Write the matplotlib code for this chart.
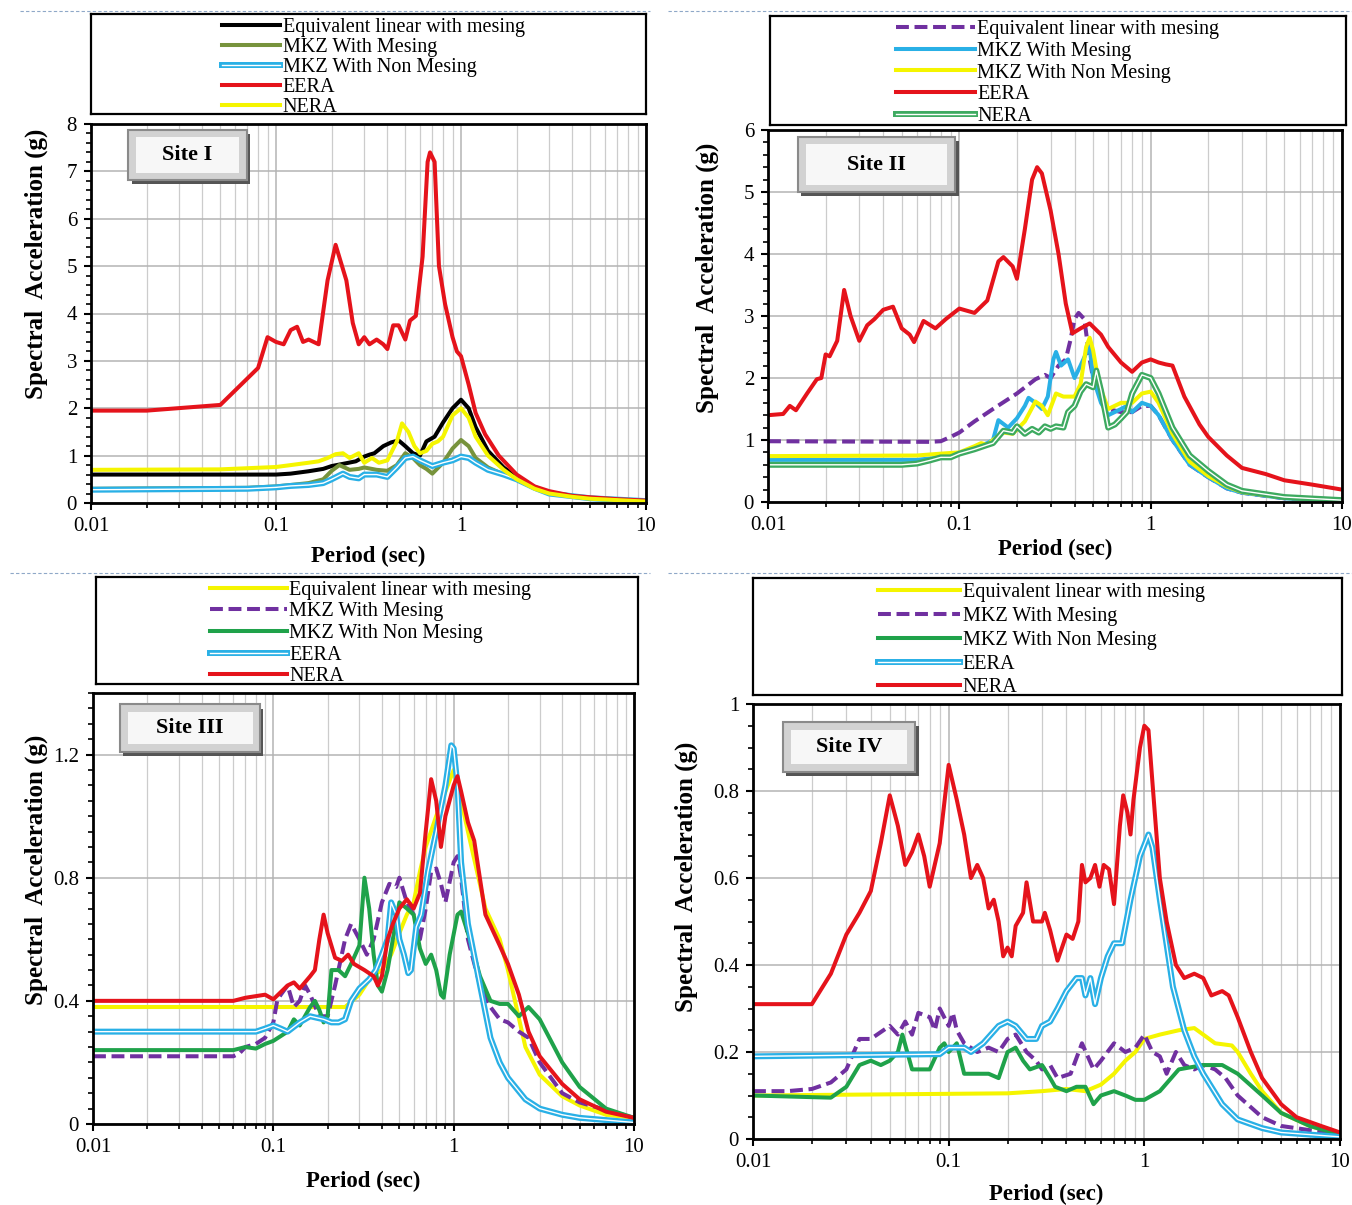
import matplotlib.pyplot as plt
import matplotlib.patheffects as pe
from matplotlib.lines import Line2D
from matplotlib.patches import Rectangle
from matplotlib.ticker import MultipleLocator, FixedLocator, LogLocator, FuncFormatter, NullFormatter

plt.rcParams['font.family'] = ['Liberation Serif', 'DejaVu Serif']

# ---------------- data (period in sec, spectral acceleration in g) ----------------
labels = ["Equivalent linear with mesing", "MKZ With Mesing", "MKZ With Non Mesing", "EERA", "NERA"]

# Site I
s1_eq_T = [0.01, 0.1, 0.12, 0.15, 0.18, 0.2, 0.24, 0.27, 0.3, 0.32, 0.34, 0.38, 0.42, 0.46, 0.5, 0.55, 0.6, 0.65,
           0.72, 0.8, 0.9, 1.0, 1.1, 1.2, 1.4, 1.7, 2.0, 2.5, 3.0, 4.0, 5.0, 10.0]
s1_eq_sa = [0.6, 0.6, 0.62, 0.67, 0.72, 0.78, 0.84, 0.88, 0.98, 1.02, 1.05, 1.2, 1.28, 1.32, 1.2, 1.05, 1.0, 1.3,
            1.4, 1.7, 2.0, 2.18, 2.0, 1.6, 1.1, 0.75, 0.55, 0.32, 0.22, 0.14, 0.1, 0.04]
s1_mkz_T = [0.01, 0.07, 0.1, 0.12, 0.15, 0.18, 0.2, 0.22, 0.25, 0.28, 0.3, 0.35, 0.4, 0.45, 0.5, 0.55, 0.6, 0.65,
            0.7, 0.8, 0.9, 1.0, 1.1, 1.2, 1.4, 1.7, 2.0, 2.5, 3.0, 5.0, 10.0]
s1_mkz_sa = [0.3, 0.32, 0.35, 0.38, 0.42, 0.5, 0.68, 0.8, 0.7, 0.72, 0.75, 0.7, 0.68, 0.8, 1.05, 0.95, 0.8, 0.72,
             0.62, 0.85, 1.15, 1.33, 1.2, 0.95, 0.75, 0.6, 0.5, 0.32, 0.22, 0.1, 0.04]
s1_nm_T = [0.01, 0.07, 0.1, 0.12, 0.15, 0.18, 0.2, 0.23, 0.25, 0.28, 0.3, 0.35, 0.4, 0.45, 0.5, 0.55, 0.6, 0.7,
           0.8, 0.9, 1.0, 1.1, 1.2, 1.4, 1.7, 2.0, 2.5, 3.0, 5.0, 10.0]
s1_nm_sa = [0.28, 0.3, 0.33, 0.36, 0.38, 0.42, 0.5, 0.62, 0.55, 0.52, 0.6, 0.6, 0.55, 0.75, 0.95, 0.98, 0.9, 0.78,
            0.85, 0.9, 0.98, 0.95, 0.85, 0.7, 0.6, 0.5, 0.32, 0.2, 0.1, 0.04]
s1_eera_T = [0.01, 0.02, 0.05, 0.08, 0.09, 0.1, 0.11, 0.12, 0.13, 0.14, 0.15, 0.17, 0.19, 0.21, 0.24, 0.26, 0.28,
             0.3, 0.32, 0.35, 0.38, 0.4, 0.43, 0.46, 0.5, 0.53, 0.57, 0.62, 0.66, 0.68, 0.72, 0.76, 0.82, 0.9, 0.95,
             1.0, 1.1, 1.2, 1.35, 1.6, 2.0, 2.5, 3.0, 4.0, 5.0, 7.0, 10.0]
s1_eera_sa = [1.95, 1.95, 2.07, 2.85, 3.5, 3.4, 3.35, 3.65, 3.72, 3.4, 3.45, 3.35, 4.7, 5.45, 4.7, 3.8, 3.35,
              3.5, 3.35, 3.45, 3.35, 3.25, 3.75, 3.75, 3.45, 3.85, 3.95, 5.2, 7.2, 7.4, 7.2, 5.0, 4.2, 3.5, 3.2,
              3.1, 2.5, 1.9, 1.45, 1.0, 0.6, 0.35, 0.25, 0.15, 0.12, 0.08, 0.05]
s1_nera_T = [0.01, 0.05, 0.1, 0.12, 0.15, 0.17, 0.19, 0.21, 0.23, 0.25, 0.28, 0.3, 0.33, 0.36, 0.4, 0.45, 0.48,
             0.52, 0.56, 0.6, 0.65, 0.7, 0.75, 0.8, 0.9, 1.0, 1.1, 1.2, 1.4, 1.7, 2.0, 2.5, 3.0, 4.0, 5.0, 10.0]
s1_nera_sa = [0.7, 0.71, 0.76, 0.8, 0.85, 0.88, 0.95, 1.03, 1.05, 0.95, 1.05, 0.85, 0.95, 0.85, 0.9, 1.3, 1.68,
              1.5, 1.2, 1.05, 1.1, 1.25, 1.3, 1.4, 1.85, 2.0, 1.8, 1.4, 1.0, 0.7, 0.5, 0.3, 0.2, 0.13, 0.09, 0.03]

# Site II
s2_eq_T = [0.01, 0.07, 0.08, 0.09, 0.1, 0.12, 0.15, 0.2, 0.25, 0.28, 0.3, 0.33, 0.36, 0.38, 0.4, 0.42, 0.45, 0.48,
           0.5, 0.55, 0.6, 0.7, 0.8, 0.9, 1.0, 1.1, 1.3, 1.6, 2.0, 2.5, 3.0, 5.0, 10.0]
s2_eq_sa = [0.98, 0.97, 0.98, 1.05, 1.12, 1.3, 1.5, 1.75, 1.98, 2.05, 2.0, 2.2, 2.3, 2.6, 2.95, 3.05, 2.95, 2.3,
            2.0, 1.7, 1.5, 1.45, 1.45, 1.55, 1.55, 1.4, 1.0, 0.6, 0.4, 0.22, 0.15, 0.06, 0.02]
s2_mkz_T = [0.01, 0.06, 0.08, 0.1, 0.12, 0.14, 0.15, 0.16, 0.18, 0.2, 0.22, 0.23, 0.25, 0.27, 0.29, 0.31, 0.32,
            0.34, 0.37, 0.4, 0.43, 0.46, 0.48, 0.5, 0.55, 0.6, 0.7, 0.75, 0.8, 0.9, 1.0, 1.1, 1.3, 1.6, 2.0, 2.5,
            3.0, 5.0, 10.0]
s2_mkz_sa = [0.68, 0.68, 0.72, 0.78, 0.88, 0.95, 1.0, 1.32, 1.2, 1.35, 1.55, 1.68, 1.6, 1.5, 1.7, 2.3, 2.42,
             2.2, 2.3, 2.0, 2.2, 2.4, 2.5, 2.0, 1.6, 1.4, 1.5, 1.55, 1.45, 1.6, 1.55, 1.4, 1.0, 0.6, 0.4, 0.22,
             0.15, 0.06, 0.02]
s2_nm_T = [0.01, 0.06, 0.08, 0.1, 0.12, 0.13, 0.14, 0.15, 0.17, 0.19, 0.22, 0.25, 0.27, 0.29, 0.32, 0.35, 0.4,
           0.43, 0.46, 0.48, 0.5, 0.53, 0.56, 0.6, 0.7, 0.8, 0.9, 1.0, 1.1, 1.3, 1.6, 2.0, 2.5, 3.0, 5.0, 10.0]
s2_nm_sa = [0.74, 0.75, 0.78, 0.8, 0.9, 0.95, 0.92, 1.0, 1.12, 1.1, 1.3, 1.62, 1.55, 1.4, 1.75, 1.7, 1.7,
            1.9, 2.5, 2.65, 2.45, 2.0, 1.75, 1.5, 1.6, 1.6, 1.75, 1.78, 1.6, 1.1, 0.65, 0.42, 0.25, 0.16, 0.07, 0.03]
s2_eera_T = [0.01, 0.012, 0.013, 0.014, 0.016, 0.018, 0.019, 0.02, 0.021, 0.023, 0.025, 0.027, 0.03, 0.033,
             0.036, 0.04, 0.045, 0.05, 0.055, 0.058, 0.065, 0.075, 0.085, 0.1, 0.12, 0.14, 0.16, 0.17, 0.19, 0.2,
             0.22, 0.24, 0.255, 0.27, 0.3, 0.33, 0.36, 0.39, 0.43, 0.48, 0.55, 0.6, 0.7, 0.8, 0.9, 1.0, 1.1, 1.2,
             1.3, 1.5, 1.8, 2.0, 2.5, 3.0, 4.0, 5.0, 7.0, 10.0]
s2_eera_sa = [1.4, 1.42, 1.55, 1.48, 1.75, 1.98, 2.0, 2.38, 2.35, 2.6, 3.42, 3.0, 2.6, 2.85, 2.95, 3.1, 3.15,
              2.8, 2.7, 2.58, 2.92, 2.8, 2.95, 3.12, 3.05, 3.25, 3.88, 3.95, 3.8, 3.6, 4.4, 5.2, 5.4, 5.3, 4.7,
              4.0, 3.2, 2.72, 2.8, 2.88, 2.7, 2.5, 2.25, 2.1, 2.25, 2.3, 2.25, 2.22, 2.2, 1.7, 1.25, 1.05, 0.75,
              0.55, 0.45, 0.35, 0.28, 0.2]
s2_nera_T = [0.01, 0.05, 0.06, 0.07, 0.08, 0.09, 0.1, 0.12, 0.14, 0.15, 0.17, 0.19, 0.2, 0.22, 0.24, 0.26, 0.28,
             0.3, 0.32, 0.35, 0.37, 0.4, 0.43, 0.46, 0.5, 0.52, 0.55, 0.6, 0.65, 0.7, 0.75, 0.8, 0.9, 1.0, 1.1,
             1.3, 1.6, 2.0, 2.5, 3.0, 5.0, 10.0]
s2_nera_sa = [0.6, 0.6, 0.62, 0.67, 0.72, 0.72, 0.78, 0.85, 0.92, 0.95, 1.15, 1.12, 1.22, 1.1, 1.18, 1.12, 1.22,
              1.18, 1.22, 1.2, 1.45, 1.55, 1.78, 1.9, 1.85, 2.12, 1.8, 1.2, 1.25, 1.35, 1.45, 1.75, 2.05, 2.0,
              1.75, 1.2, 0.75, 0.5, 0.28, 0.18, 0.08, 0.03]

# Site III
s3_eq_T = [0.01, 0.25, 0.3, 0.35, 0.4, 0.45, 0.5, 0.55, 0.6, 0.65, 0.7, 0.8, 0.9, 1.0, 1.1, 1.2, 1.5, 1.8, 2.0,
           2.5, 3.0, 4.0, 5.0, 7.0, 10.0]
s3_eq_sa = [0.38, 0.38, 0.42, 0.48, 0.5, 0.55, 0.62, 0.68, 0.72, 0.82, 0.9, 1.0, 1.08, 1.15, 1.05, 0.95, 0.7,
            0.6, 0.5, 0.25, 0.16, 0.09, 0.06, 0.03, 0.02]
s3_mkz_T = [0.01, 0.06, 0.065, 0.07, 0.08, 0.09, 0.1, 0.105, 0.11, 0.12, 0.13, 0.14, 0.15, 0.16, 0.18, 0.2,
            0.22, 0.25, 0.27, 0.3, 0.33, 0.36, 0.4, 0.44, 0.48, 0.5, 0.55, 0.6, 0.65, 0.7, 0.75, 0.8, 0.85, 0.9,
            1.0, 1.05, 1.1, 1.2, 1.4, 1.6, 1.8, 2.0, 2.3, 2.6, 3.0, 4.0, 5.0, 10.0]
s3_mkz_sa = [0.22, 0.22, 0.23, 0.25, 0.26, 0.28, 0.33, 0.4, 0.42, 0.45, 0.38, 0.4, 0.45, 0.42, 0.35, 0.35,
             0.45, 0.6, 0.65, 0.6, 0.55, 0.6, 0.72, 0.78, 0.77, 0.8, 0.72, 0.68, 0.6, 0.7, 0.82, 0.83, 0.78, 0.72,
             0.85, 0.87, 0.8, 0.6, 0.45, 0.38, 0.34, 0.33, 0.3, 0.28, 0.2, 0.1, 0.07, 0.02]
s3_nm_T = [0.01, 0.06, 0.07, 0.08, 0.09, 0.1, 0.12, 0.13, 0.14, 0.16, 0.17, 0.18, 0.19, 0.2, 0.21, 0.23, 0.25,
           0.27, 0.3, 0.32, 0.34, 0.36, 0.38, 0.4, 0.43, 0.46, 0.5, 0.55, 0.6, 0.65, 0.7, 0.75, 0.8, 0.85, 0.88,
           0.95, 1.05, 1.1, 1.2, 1.4, 1.6, 1.8, 2.0, 2.3, 2.6, 3.0, 4.0, 5.0, 7.0, 10.0]
s3_nm_sa = [0.24, 0.24, 0.25, 0.245, 0.26, 0.27, 0.3, 0.34, 0.32, 0.38, 0.4, 0.37, 0.33, 0.35, 0.5, 0.5, 0.48,
            0.52, 0.58, 0.8, 0.7, 0.55, 0.45, 0.43, 0.5, 0.6, 0.72, 0.7, 0.68, 0.57, 0.52, 0.55, 0.5, 0.42, 0.41,
            0.55, 0.68, 0.69, 0.62, 0.48, 0.4, 0.39, 0.39, 0.35, 0.38, 0.34, 0.2, 0.12, 0.05, 0.02]
s3_eera_T = [0.01, 0.08, 0.09, 0.1, 0.11, 0.12, 0.14, 0.16, 0.19, 0.21, 0.23, 0.25, 0.27, 0.3, 0.34, 0.37, 0.4,
             0.43, 0.45, 0.48, 0.5, 0.53, 0.56, 0.58, 0.62, 0.66, 0.72, 0.8, 0.9, 0.97, 1.0, 1.05, 1.1, 1.2, 1.4,
             1.6, 1.8, 2.0, 2.5, 3.0, 4.0, 5.0, 10.0]
s3_eera_sa = [0.3, 0.3, 0.31, 0.32, 0.31, 0.3, 0.33, 0.35, 0.34, 0.33, 0.33, 0.34, 0.4, 0.44, 0.47, 0.5, 0.55,
              0.6, 0.72, 0.68, 0.6, 0.55, 0.49, 0.5, 0.64, 0.68, 0.82, 0.95, 1.1, 1.23, 1.22, 1.1, 0.85, 0.65,
              0.45, 0.28, 0.2, 0.15, 0.08, 0.05, 0.03, 0.02, 0.005]
s3_nera_T = [0.01, 0.06, 0.07, 0.09, 0.1, 0.12, 0.13, 0.14, 0.16, 0.17, 0.18, 0.19, 0.2, 0.22, 0.24, 0.26, 0.28,
             0.32, 0.36, 0.38, 0.4, 0.43, 0.46, 0.5, 0.55, 0.6, 0.65, 0.7, 0.75, 0.8, 0.85, 0.9, 1.0, 1.05, 1.1,
             1.2, 1.3, 1.5, 1.8, 2.0, 2.3, 2.6, 3.0, 4.0, 5.0, 7.0, 10.0]
s3_nera_sa = [0.4, 0.4, 0.41, 0.42, 0.405, 0.45, 0.46, 0.44, 0.48, 0.5, 0.6, 0.68, 0.62, 0.54, 0.53, 0.55, 0.52,
              0.5, 0.48, 0.45, 0.48, 0.6, 0.65, 0.7, 0.73, 0.7, 0.75, 0.95, 1.12, 1.05, 0.9, 1.0, 1.1, 1.13, 1.08,
              0.98, 0.92, 0.68, 0.58, 0.52, 0.42, 0.3, 0.22, 0.13, 0.08, 0.04, 0.02]

# Site IV
s4_eq_T = [0.01, 0.2, 0.3, 0.4, 0.5, 0.6, 0.7, 0.8, 0.9, 1.0, 1.2, 1.5, 1.8, 2.0, 2.3, 2.8, 3.0, 3.5, 4.0, 5.0,
           7.0, 10.0]
s4_eq_sa = [0.1, 0.105, 0.11, 0.115, 0.11, 0.125, 0.15, 0.18, 0.2, 0.23, 0.24, 0.25, 0.255, 0.24, 0.22, 0.215,
            0.2, 0.15, 0.11, 0.06, 0.03, 0.01]
s4_mkz_T = [0.01, 0.015, 0.02, 0.025, 0.03, 0.035, 0.04, 0.05, 0.055, 0.06, 0.065, 0.07, 0.08, 0.085, 0.09, 0.1,
            0.105, 0.11, 0.12, 0.14, 0.16, 0.18, 0.2, 0.22, 0.25, 0.28, 0.3, 0.33, 0.36, 0.42, 0.48, 0.55, 0.6,
            0.7, 0.8, 0.9, 1.0, 1.1, 1.2, 1.3, 1.45, 1.6, 1.8, 2.0, 2.3, 2.6, 3.0, 4.0, 5.0, 10.0]
s4_mkz_sa = [0.11, 0.11, 0.115, 0.13, 0.16, 0.23, 0.23, 0.26, 0.24, 0.27, 0.24, 0.29, 0.28, 0.25, 0.3, 0.26,
             0.29, 0.25, 0.22, 0.2, 0.21, 0.2, 0.23, 0.24, 0.2, 0.18, 0.16, 0.17, 0.14, 0.15, 0.22, 0.16, 0.18,
             0.22, 0.2, 0.21, 0.24, 0.2, 0.19, 0.15, 0.2, 0.17, 0.16, 0.17, 0.16, 0.14, 0.1, 0.05, 0.03, 0.01]
s4_nm_T = [0.01, 0.025, 0.03, 0.035, 0.04, 0.045, 0.05, 0.055, 0.058, 0.065, 0.07, 0.08, 0.09, 0.095, 0.1, 0.11,
           0.12, 0.14, 0.16, 0.18, 0.2, 0.22, 0.24, 0.26, 0.3, 0.33, 0.35, 0.4, 0.45, 0.5, 0.55, 0.6, 0.7, 0.8,
           0.9, 1.0, 1.2, 1.5, 2.0, 2.5, 3.0, 4.0, 5.0, 7.0, 10.0]
s4_nm_sa = [0.1, 0.095, 0.12, 0.17, 0.18, 0.17, 0.18, 0.2, 0.24, 0.16, 0.16, 0.16, 0.21, 0.22, 0.2, 0.22, 0.15,
            0.15, 0.15, 0.14, 0.2, 0.21, 0.18, 0.16, 0.17, 0.14, 0.12, 0.11, 0.12, 0.12, 0.08, 0.1, 0.11, 0.1,
            0.09, 0.09, 0.11, 0.16, 0.17, 0.17, 0.15, 0.1, 0.06, 0.03, 0.01]
s4_eera_T = [0.01, 0.09, 0.1, 0.12, 0.13, 0.15, 0.18, 0.2, 0.22, 0.25, 0.28, 0.3, 0.33, 0.36, 0.4, 0.45, 0.48,
             0.5, 0.53, 0.56, 0.6, 0.65, 0.7, 0.77, 0.85, 0.95, 1.05, 1.1, 1.2, 1.4, 1.6, 1.8, 2.0, 2.5, 3.0, 4.0,
             5.0, 10.0]
s4_eera_sa = [0.19, 0.195, 0.21, 0.21, 0.2, 0.22, 0.26, 0.27, 0.26, 0.23, 0.23, 0.26, 0.27, 0.3, 0.34, 0.37,
              0.37, 0.33, 0.37, 0.31, 0.37, 0.42, 0.45, 0.45, 0.55, 0.65, 0.7, 0.67, 0.55, 0.35, 0.25, 0.19, 0.15,
              0.08, 0.045, 0.025, 0.015, 0.005]
s4_nera_T = [0.01, 0.02, 0.025, 0.03, 0.035, 0.04, 0.045, 0.05, 0.055, 0.06, 0.065, 0.07, 0.075, 0.08, 0.09, 0.1,
             0.11, 0.12, 0.13, 0.14, 0.15, 0.16, 0.17, 0.18, 0.19, 0.2, 0.21, 0.22, 0.24, 0.25, 0.27, 0.3, 0.31,
             0.33, 0.36, 0.4, 0.43, 0.46, 0.48, 0.5, 0.53, 0.56, 0.59, 0.62, 0.66, 0.7, 0.75, 0.78, 0.82, 0.85,
             0.88, 0.95, 1.0, 1.05, 1.1, 1.2, 1.3, 1.45, 1.6, 1.8, 2.0, 2.2, 2.5, 2.7, 3.0, 3.5, 4.0, 5.0, 6.0,
             8.0, 10.0]
s4_nera_sa = [0.31, 0.31, 0.38, 0.47, 0.52, 0.57, 0.68, 0.79, 0.72, 0.63, 0.66, 0.7, 0.65, 0.58, 0.68, 0.86,
              0.78, 0.7, 0.6, 0.63, 0.6, 0.53, 0.55, 0.5, 0.42, 0.44, 0.42, 0.49, 0.52, 0.59, 0.5, 0.5, 0.52,
              0.48, 0.41, 0.47, 0.46, 0.5, 0.63, 0.59, 0.6, 0.63, 0.58, 0.63, 0.62, 0.54, 0.72, 0.79, 0.75, 0.7,
              0.78, 0.9, 0.95, 0.94, 0.82, 0.6, 0.5, 0.4, 0.37, 0.38, 0.37, 0.33, 0.34, 0.33, 0.28, 0.2, 0.14,
              0.08, 0.05, 0.03, 0.015]

# ---------------- styling ----------------
RED = '#e5131b'
YEL = '#f5f500'
BLK = '#000000'
OLV = '#77933c'
CYN = '#29b0e6'
GRN = '#1fa24a'
GRN2 = '#3daa60'
PUR = '#7030a0'
LW = 2.9

W, H = 1352, 1205
fig = plt.figure(figsize=(W / 100, H / 100), dpi=100)


def px_rect(x0, y0, x1, y1):
    return [x0 / W, 1 - y1 / H, (x1 - x0) / W, (y1 - y0) / H]


def draw(ax, T, sa, color, kind, label):
    if kind == 'double':
        ax.plot(T, sa, color='white', lw=1.0, label=label, solid_joinstyle='round',
                path_effects=[pe.Stroke(linewidth=4.3, foreground=color), pe.Normal()])
    elif kind == 'dash':
        ax.plot(T, sa, color=color, lw=LW, dashes=(3.2, 1.4), label=label)
    else:
        ax.plot(T, sa, color=color, lw=LW, label=label, solid_joinstyle='round')


def panel(ax_px, leg_px, series, ymax, ymaj, ymin, site, box, ylab_xy, xlab_y, hx, hy, hlen, lspace):
    ax = fig.add_axes(px_rect(*ax_px))
    for T, sa, color, kind, lab in series:
        draw(ax, T, sa, color, kind, lab)
    ax.set_xscale('log')
    ax.set_xlim(0.01, 10)
    ax.set_ylim(0, ymax)
    ax.xaxis.set_major_locator(FixedLocator([0.01, 0.1, 1, 10]))
    ax.xaxis.set_major_formatter(FuncFormatter(lambda v, p: '%g' % v))
    ax.xaxis.set_minor_locator(LogLocator(base=10, subs=range(2, 10), numticks=20))
    ax.xaxis.set_minor_formatter(NullFormatter())
    ax.yaxis.set_major_locator(MultipleLocator(ymaj))
    ax.yaxis.set_minor_locator(MultipleLocator(ymin))
    ax.yaxis.set_major_formatter(FuncFormatter(lambda v, p: '%g' % round(v, 2)))
    ax.grid(True, which='major', color='#b4b4b4', lw=1.1)
    ax.grid(True, which='minor', axis='x', color='#cccccc', lw=0.9)
    ax.set_axisbelow(True)
    for s in ax.spines.values():
        s.set_linewidth(2)
    ax.tick_params(which='major', direction='out', length=5, width=1.5, labelsize=15, pad=5)
    ax.tick_params(which='minor', direction='out', length=3.5, width=1.2)
    ax.set_ylabel('Spectral  Acceleration (g)', fontsize=18, fontweight='bold')
    ax.set_xlabel('Period (sec)', fontsize=16.5, fontweight='bold')
    ax.yaxis.set_label_coords(*ylab_xy)
    ax.xaxis.set_label_coords(0.5, xlab_y)

    # site label box
    x0, y0, x1, y1 = box
    ax.add_patch(Rectangle((x0 + 0.006, y0 - 0.01), x1 - x0, y1 - y0, transform=ax.transAxes,
                           facecolor='#555555', edgecolor='none', zorder=5))
    ax.add_patch(Rectangle((x0, y0), x1 - x0, y1 - y0, transform=ax.transAxes,
                           facecolor='#d2d2d2', edgecolor='#8a8a8a', lw=1.5, zorder=6))
    ax.add_patch(Rectangle((x0 + 0.014, y0 + 0.018), x1 - x0 - 0.028, y1 - y0 - 0.036, transform=ax.transAxes,
                           facecolor='#f7f7f7', edgecolor='none', zorder=7))
    ax.text((x0 + x1) / 2, (y0 + y1) / 2, site, transform=ax.transAxes, ha='center', va='center',
            fontsize=16, fontweight='bold', zorder=8)

    # legend in its own framed box above the plot
    lax = fig.add_axes(px_rect(*leg_px))
    lax.set_xticks([])
    lax.set_yticks([])
    for s in lax.spines.values():
        s.set_linewidth(1.6)
    h, l = ax.get_legend_handles_labels()
    lax.legend(h, l, loc='upper left', bbox_to_anchor=(hx, hy), frameon=False, fontsize=14.5,
               handlelength=hlen, handletextpad=0.12, labelspacing=lspace, borderaxespad=0, borderpad=0)
    return ax


panel((91, 124, 646, 503), (91, 14, 646, 114),
      [(s1_eq_T, s1_eq_sa, BLK, 'solid', labels[0]),
       (s1_mkz_T, s1_mkz_sa, OLV, 'solid', labels[1]),
       (s1_nm_T, s1_nm_sa, CYN, 'double', labels[2]),
       (s1_eera_T, s1_eera_sa, RED, 'solid', labels[3]),
       (s1_nera_T, s1_nera_sa, YEL, 'solid', labels[4])],
      8, 1, 0.2, 'Site I', (0.067, 0.852, 0.281, 0.984), (-0.077, 0.63), -0.113, 0.236, 0.965, 2.9, 0.05)

panel((768, 130, 1342, 502), (770, 16, 1346, 125),
      [(s2_eq_T, s2_eq_sa, PUR, 'dash', labels[0]),
       (s2_mkz_T, s2_mkz_sa, CYN, 'solid', labels[1]),
       (s2_nm_T, s2_nm_sa, YEL, 'solid', labels[2]),
       (s2_eera_T, s2_eera_sa, RED, 'solid', labels[3]),
       (s2_nera_T, s2_nera_sa, GRN2, 'double', labels[4])],
      6, 1, 0.2, 'Site II', (0.052, 0.833, 0.326, 0.981), (-0.085, 0.602), -0.1, 0.219, 0.967, 3.9, 0.14)

panel((93, 693, 634, 1124), (96, 577, 638, 684),
      [(s3_eq_T, s3_eq_sa, YEL, 'solid', labels[0]),
       (s3_mkz_T, s3_mkz_sa, PUR, 'dash', labels[1]),
       (s3_nm_T, s3_nm_sa, GRN, 'solid', labels[2]),
       (s3_eera_T, s3_eera_sa, CYN, 'double', labels[3]),
       (s3_nera_T, s3_nera_sa, RED, 'solid', labels[4])],
      1.4, 0.4, 0.05, 'Site III', (0.05, 0.863, 0.309, 0.974), (-0.083, 0.589), -0.109, 0.211, 0.967, 3.8, 0.13)

panel((753, 704, 1340, 1139), (753, 578, 1342, 695),
      [(s4_eq_T, s4_eq_sa, YEL, 'solid', labels[0]),
       (s4_mkz_T, s4_mkz_sa, PUR, 'dash', labels[1]),
       (s4_nm_T, s4_nm_sa, GRN, 'solid', labels[2]),
       (s4_eera_T, s4_eera_sa, CYN, 'double', labels[3]),
       (s4_nera_T, s4_nera_sa, RED, 'solid', labels[4])],
      1.0, 0.2, 0.05, 'Site IV', (0.051, 0.844, 0.276, 0.959), (-0.094, 0.602), -0.103, 0.212, 0.96, 4.1, 0.24)

# dashed separators between the rows of panels
for (xa, xb, yy) in [(20, 650, 11), (668, 1352, 11), (10, 650, 573), (668, 1352, 573)]:
    fig.add_artist(Line2D([xa / W, xb / W], [1 - yy / H, 1 - yy / H], transform=fig.transFigure,
                          color='#8fa8c8', lw=0.8, ls=(0, (3, 2))))

fig.savefig('out.png', dpi=100)
